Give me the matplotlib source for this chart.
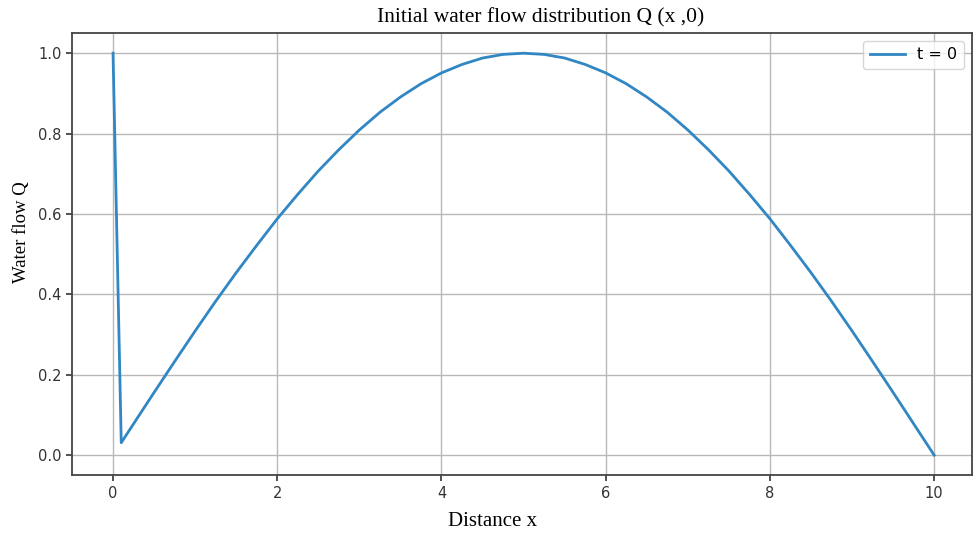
import matplotlib
matplotlib.use("Agg")
import matplotlib.pyplot as plt

# values
distance = [0.0, 0.1, 0.25, 0.5, 0.75, 1.0, 1.25, 1.5, 1.75, 2.0, 2.25, 2.5, 2.75,
            3.0, 3.25, 3.5, 3.75, 4.0, 4.25, 4.5, 4.75, 5.0, 5.25, 5.5, 5.75,
            6.0, 6.25, 6.5, 6.75, 7.0, 7.25, 7.5, 7.75, 8.0, 8.25, 8.5, 8.75,
            9.0, 9.25, 9.5, 9.75, 10.0]
flow = [1.0, 0.031, 0.078, 0.156, 0.233, 0.309, 0.383, 0.454, 0.522, 0.588, 0.649, 0.707, 0.760,
        0.809, 0.853, 0.891, 0.924, 0.951, 0.972, 0.988, 0.997, 1.0, 0.997, 0.988, 0.972,
        0.951, 0.924, 0.891, 0.853, 0.809, 0.760, 0.707, 0.649, 0.588, 0.522, 0.454, 0.383,
        0.309, 0.233, 0.156, 0.078, 0.0]
series_label = "t = 0"

plt.rcParams["font.family"] = "DejaVu Sans"
serif = ["Liberation Serif", "DejaVu Serif"]

fig = plt.figure(figsize=(9.74, 5.34), dpi=100)
ax = fig.add_axes([0.0739, 0.11, 0.924, 0.828])

ax.plot(distance, flow, color="#3087c3", linewidth=2, label=series_label)
ax.grid(True, color="#b8b8b8", linewidth=1)
ax.set_xlim(-0.5, 10.46)
ax.set_ylim(-0.05, 1.05)
ax.set_xticks([0, 2, 4, 6, 8, 10])
ax.set_yticks([0.0, 0.2, 0.4, 0.6, 0.8, 1.0])

for s in ax.spines.values():
    s.set_color("#444444")
    s.set_linewidth(1.3)
ax.tick_params(colors="#333333", labelsize=10.5, width=1.2, length=4)

ax.set_title("Initial water flow distribution Q (x ,0)", family=serif, fontsize=15.5,
             pad=7.5, x=0.521)
ax.set_xlabel("Distance x", family=serif, fontsize=15, labelpad=8, x=0.467)
ax.set_ylabel("Water flow Q", family=serif, fontsize=13.5, labelpad=6, y=0.55)
ax.legend(loc="upper right", fontsize=11.5, handlelength=2.2)

fig.savefig("out.png", dpi=100)
